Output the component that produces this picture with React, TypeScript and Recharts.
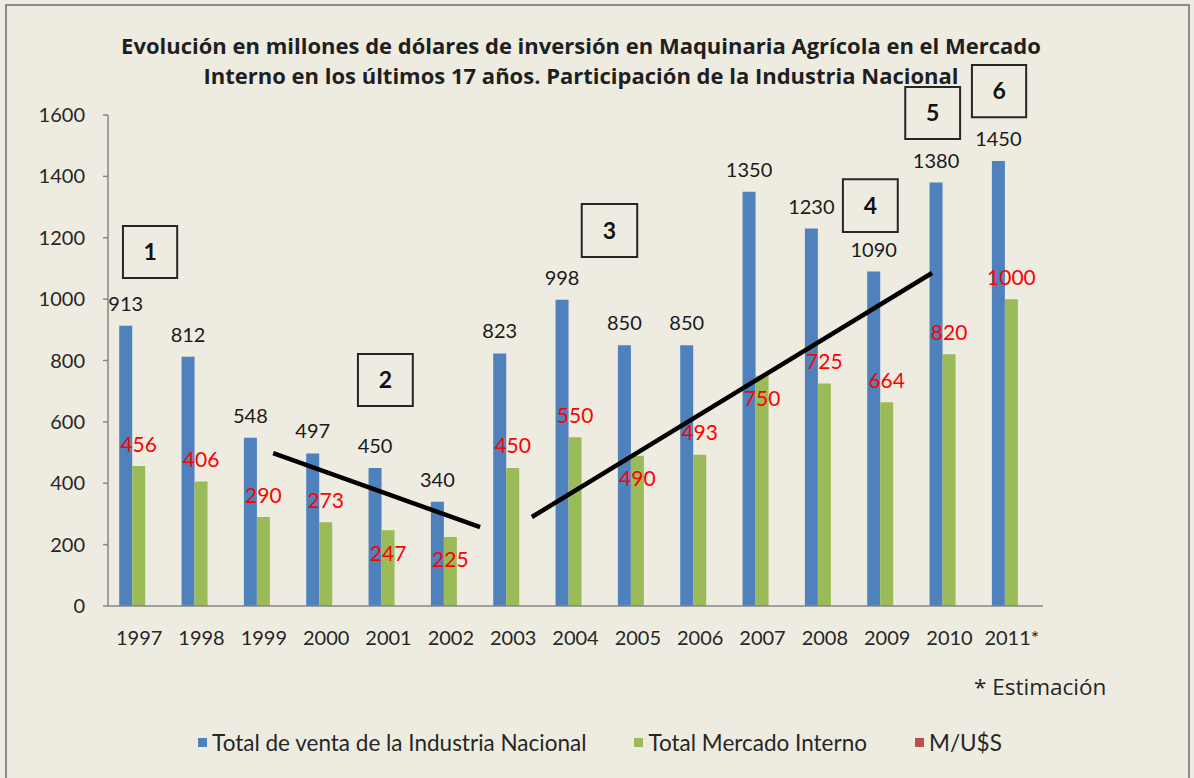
import React from 'react';
import {
  BarChart,
  Bar,
  XAxis,
  YAxis,
  LabelList,
  Legend,
  ReferenceLine,
  ReferenceArea,
} from 'recharts';

const years = ['1997', '1998', '1999', '2000', '2001', '2002', '2003', '2004', '2005', '2006', '2007', '2008', '2009', '2010', '2011*'];
const totalVentaIndustria = [913, 812, 548, 497, 450, 340, 823, 998, 850, 850, 1350, 1230, 1090, 1380, 1450];
const totalMercadoInterno = [456, 406, 290, 273, 247, 225, 450, 550, 490, 493, 750, 725, 664, 820, 1000];
const mUsd: (number | null)[] = [null, null, null, null, null, null, null, null, null, null, null, null, null, null, null];
const seriesNames = ['Total de venta de la Industria Nacional', 'Total Mercado Interno', 'M/U$S'];
const yTicks = [0, 200, 400, 600, 800, 1000, 1200, 1400, 1600];
const bandTicks = [0, 1, 2, 3, 4, 5, 6, 7, 8, 9, 10, 11, 12, 13, 14, 15];
// which red labels Excel placed under the top of the green bar
const greenLabelBelow = [false, false, false, false, true, true, false, false, true, false, true, false, false, false, false];

// annotations in data coordinates (x = category band index, y = value)
const trendSegments = [
  [{ x: 2.65, y: 498 }, { x: 5.97, y: 257 }],
  [{ x: 6.8, y: 290 }, { x: 13.22, y: 1085 }],
];
const boxes = [
  { n: '1', x1: 0.24, x2: 1.11, y1: 1069, y2: 1238 },
  { n: '2', x1: 4.01, x2: 4.89, y1: 652, y2: 821 },
  { n: '3', x1: 7.6, x2: 8.49, y1: 1137, y2: 1310 },
  { n: '4', x1: 11.79, x2: 12.67, y1: 1219, y2: 1391 },
  { n: '5', x1: 12.79, x2: 13.67, y1: 1522, y2: 1691 },
  { n: '6', x1: 13.86, x2: 14.73, y1: 1593, y2: 1763 },
];

const data = years.map((year, i) => ({
  year,
  idx: i + 0.5,
  venta: totalVentaIndustria[i],
  mercado: totalMercadoInterno[i],
  musd: mUsd[i],
}));

const FONT = 'Lato, "Open Sans", sans-serif';
const BG = '#eeece1';
const AXIS = '#868686';

const BlueLabel = (props: any) => {
  const { x, y, width, value } = props;
  return (
    <text x={Number(x) + Number(width) / 2} y={Number(y) - 23} textAnchor="middle" dominantBaseline="central" fontSize={20} fill="#1a1a1a" fontFamily={FONT}>
      {value}
    </text>
  );
};

const RedLabel = (props: any) => {
  const { x, y, width, value, index } = props;
  const dy = greenLabelBelow[index] ? 22 : -23;
  return (
    <text x={Number(x) + Number(width) / 2} y={Number(y) + dy} textAnchor="middle" dominantBaseline="central" fontSize={21} fill="#ff0000" fontFamily={FONT}>
      {value}
    </text>
  );
};

const LegendContent = (props: any) => {
  const payload = [...(props.payload || [])].sort(
    (a: any, b: any) => seriesNames.indexOf(a.value) - seriesNames.indexOf(b.value)
  );
  return (
    <div style={{ display: 'flex', justifyContent: 'center', fontFamily: FONT, fontSize: 22.5, color: '#262626' }}>
      {payload.map((e: any, i: number) => (
        <div key={i} style={{ display: 'flex', alignItems: 'center', marginRight: i < payload.length - 1 ? 48 : 0 }}>
          <span style={{ display: 'inline-block', width: 9, height: 9, background: e.color, marginRight: 5 }} />
          <span>{e.value}</span>
        </div>
      ))}
    </div>
  );
};

export default function App() {
  return (
    <div style={{ position: 'absolute', left: 0, top: 0, width: 1194, height: 778, background: BG, overflow: 'hidden', fontFamily: FONT }}>
      <div style={{ position: 'absolute', left: 5, top: 4, width: 1185, height: 800, border: '2px solid #8c8c8c', boxSizing: 'border-box' }} />
      <div style={{ position: 'absolute', left: 0, top: 30, width: 1162, textAlign: 'center', fontSize: 22, fontWeight: 'bold', lineHeight: '30px', color: '#1f1f1f', fontFamily: '"Open Sans", Lato, sans-serif' }}>
        <div>Evolución en millones de dólares de inversión en Maquinaria Agrícola en el Mercado</div>
        <div>Interno en los últimos 17 años. Participación de la Industria Nacional</div>
      </div>
      <div style={{ position: 'absolute', left: 974, top: 671, fontSize: 22.5, color: '#262626', fontFamily: '"Open Sans", Lato, sans-serif' }}>* Estimación</div>
      <div style={{ position: 'absolute', left: 0, top: 0 }}>
        <BarChart
          width={1194}
          height={778}
          data={data}
          margin={{ top: 115, right: 151, bottom: 170, left: 48 }}
          barCategoryGap="18%"
          barGap={0}
        >
          <XAxis
            xAxisId="band"
            type="number"
            dataKey="idx"
            domain={[0, 15]}
            ticks={bandTicks}
            tick={false}
            height={1}
            tickSize={8}
            stroke={AXIS}
            axisLine={{ stroke: AXIS, strokeWidth: 1.5 }}
            tickLine={{ stroke: AXIS, strokeWidth: 1.5 }}
          />
          <XAxis
            xAxisId="year"
            dataKey="year"
            axisLine={false}
            tickLine={false}
            tickSize={6}
            tickMargin={18}
            height={1}
            interval={0}
            tick={{ fontSize: 20, fill: '#262626', fontFamily: FONT }}
          />
          <YAxis
            domain={[0, 1600]}
            ticks={yTicks}
            width={60}
            tickSize={5}
            tickMargin={18}
            axisLine={{ stroke: AXIS, strokeWidth: 1.5 }}
            tickLine={{ stroke: AXIS, strokeWidth: 1.5 }}
            tick={{ fontSize: 20, fill: '#262626', fontFamily: FONT }}
          />
          <Bar xAxisId="year" dataKey="venta" name={seriesNames[0]} fill="#4f81bd" isAnimationActive={false}>
            <LabelList dataKey="venta" content={BlueLabel} />
          </Bar>
          <Bar xAxisId="year" dataKey="mercado" name={seriesNames[1]} fill="#9bbb59" isAnimationActive={false}>
            <LabelList dataKey="mercado" content={RedLabel} />
          </Bar>
          <Bar xAxisId="year" dataKey="musd" name={seriesNames[2]} fill="#c0504d" isAnimationActive={false} />
          {trendSegments.map((seg, i) => (
            <ReferenceLine key={`t${i}`} xAxisId="band" segment={seg} stroke="#000" strokeWidth={4.5} ifOverflow="visible" />
          ))}
          {boxes.map((b) => (
            <ReferenceArea
              key={`b${b.n}`}
              xAxisId="band"
              x1={b.x1}
              x2={b.x2}
              y1={b.y1}
              y2={b.y2}
              fill={BG}
              fillOpacity={1}
              stroke="#262626"
              strokeWidth={2}
              ifOverflow="visible"
              label={{ value: b.n, position: 'center', fontSize: 23, fontWeight: 'bold', fill: '#111', fontFamily: FONT }}
            />
          ))}
          <Legend
            verticalAlign="middle"
            align="center"
            layout="horizontal"
            content={LegendContent}
            wrapperStyle={{ top: 729, left: 3, width: 1194 }}
          />
        </BarChart>
      </div>
    </div>
  );
}
